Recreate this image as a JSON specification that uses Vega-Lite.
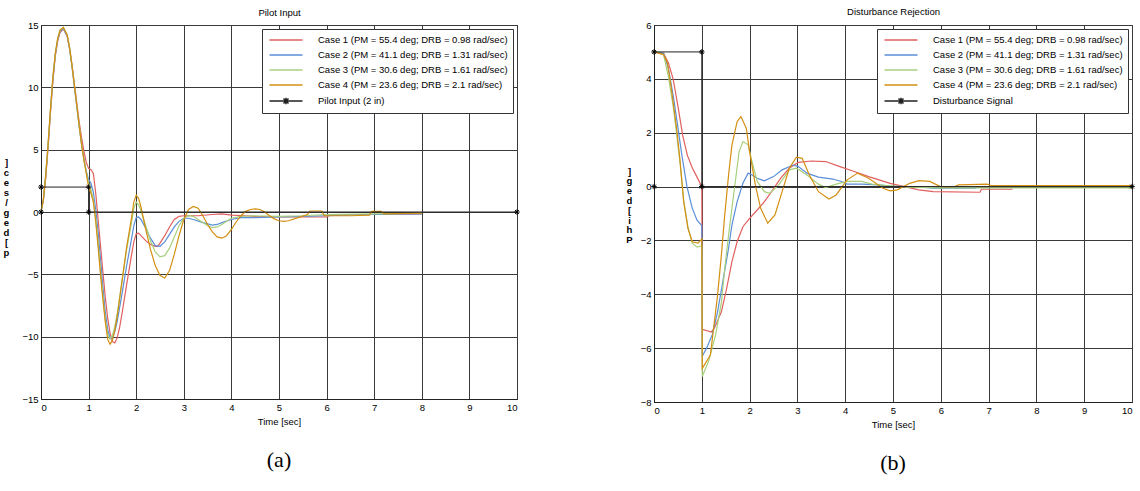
{
  "$schema": "https://vega.github.io/schema/vega-lite/v6.json",
  "padding": {"left": 2, "top": 5, "right": 0, "bottom": 0},
  "background": "white",
  "config": {
    "font": "Liberation Sans",
    "view": {"stroke": "#222", "strokeWidth": 1},
    "axis": {
      "grid": true, "gridColor": "#3a3a3a", "gridWidth": 1, "gridOpacity": 1,
      "domainColor": "#222", "ticks": false, "labelFont": "Liberation Sans", "labelFontSize": 9.5,
      "labelColor": "black", "titleFont": "Liberation Sans", "titleFontSize": 9.5, "titleFontWeight": "normal", "titleColor": "black",
      "labelPadding": 3
    },
    "legend": {
      "labelFont": "Liberation Sans", "labelFontSize": 9.5, "labelColor": "black",
      "symbolSize": 100, "symbolStrokeWidth": 1.5, "symbolType": "M-3.3,0L3.3,0", "symbolOffset": 13, "labelOffset": 26,
      "strokeColor": "#333", "fillColor": "white", "padding": 5, "rowPadding": 4,
      "orient": "top-right", "offset": 4, "title": null, "labelLimit": 300
    },
    "title": {"font": "Liberation Sans", "fontSize": 9.5, "fontWeight": "normal", "color": "black"}
  },
  "datasets": {
    "a": [
      {"s":"Case 1","t":0,"v":0},{"s":"Case 1","t":0.05,"v":0.9},{"s":"Case 1","t":0.1,"v":2.8},{"s":"Case 1","t":0.15,"v":5.2},{"s":"Case 1","t":0.2,"v":8},{"s":"Case 1","t":0.25,"v":10.5},{"s":"Case 1","t":0.3,"v":12.5},{"s":"Case 1","t":0.35,"v":13.7},{"s":"Case 1","t":0.4,"v":14.4},{"s":"Case 1","t":0.47,"v":14.7},{"s":"Case 1","t":0.55,"v":14.1},{"s":"Case 1","t":0.6,"v":13.1},{"s":"Case 1","t":0.65,"v":11.8},{"s":"Case 1","t":0.7,"v":10.3},{"s":"Case 1","t":0.75,"v":8.8},{"s":"Case 1","t":0.8,"v":7.3},{"s":"Case 1","t":0.85,"v":6.0},{"s":"Case 1","t":0.9,"v":4.9},{"s":"Case 1","t":0.95,"v":4.0},{"s":"Case 1","t":1.0,"v":3.5},{"s":"Case 1","t":1.05,"v":3.4},{"s":"Case 1","t":1.1,"v":3.1},{"s":"Case 1","t":1.15,"v":1.5},{"s":"Case 1","t":1.2,"v":-0.6},{"s":"Case 1","t":1.25,"v":-2.7},{"s":"Case 1","t":1.3,"v":-4.8},{"s":"Case 1","t":1.35,"v":-6.8},{"s":"Case 1","t":1.4,"v":-8.5},{"s":"Case 1","t":1.45,"v":-9.7},{"s":"Case 1","t":1.5,"v":-10.4},{"s":"Case 1","t":1.55,"v":-10.5},{"s":"Case 1","t":1.6,"v":-10.1},{"s":"Case 1","t":1.65,"v":-9.3},{"s":"Case 1","t":1.7,"v":-8.2},{"s":"Case 1","t":1.8,"v":-5.8},{"s":"Case 1","t":1.9,"v":-3.5},{"s":"Case 1","t":1.95,"v":-2.4},{"s":"Case 1","t":2.0,"v":-1.75},{"s":"Case 1","t":2.05,"v":-1.7},{"s":"Case 1","t":2.1,"v":-1.9},{"s":"Case 1","t":2.2,"v":-2.3},{"s":"Case 1","t":2.3,"v":-2.6},{"s":"Case 1","t":2.4,"v":-2.75},{"s":"Case 1","t":2.45,"v":-2.75},{"s":"Case 1","t":2.5,"v":-2.5},{"s":"Case 1","t":2.6,"v":-1.9},{"s":"Case 1","t":2.7,"v":-1.2},{"s":"Case 1","t":2.8,"v":-0.6},{"s":"Case 1","t":2.9,"v":-0.35},{"s":"Case 1","t":3.0,"v":-0.3},{"s":"Case 1","t":3.3,"v":-0.3},{"s":"Case 1","t":3.6,"v":-0.2},{"s":"Case 1","t":3.8,"v":-0.15},{"s":"Case 1","t":4.0,"v":-0.25},{"s":"Case 1","t":4.3,"v":-0.3},{"s":"Case 1","t":4.5,"v":-0.35},{"s":"Case 1","t":5.0,"v":-0.4},{"s":"Case 1","t":6.0,"v":-0.4},{"s":"Case 1","t":6.1,"v":-0.2},{"s":"Case 1","t":7.0,"v":-0.2},{"s":"Case 1","t":8.0,"v":-0.15},
      {"s":"Case 2","t":0,"v":0},{"s":"Case 2","t":0.05,"v":1},{"s":"Case 2","t":0.1,"v":2.9},{"s":"Case 2","t":0.15,"v":5.4},{"s":"Case 2","t":0.2,"v":8.2},{"s":"Case 2","t":0.25,"v":10.7},{"s":"Case 2","t":0.3,"v":12.6},{"s":"Case 2","t":0.35,"v":13.8},{"s":"Case 2","t":0.4,"v":14.5},{"s":"Case 2","t":0.47,"v":14.7},{"s":"Case 2","t":0.55,"v":14.1},{"s":"Case 2","t":0.6,"v":13.1},{"s":"Case 2","t":0.65,"v":11.7},{"s":"Case 2","t":0.7,"v":10.1},{"s":"Case 2","t":0.75,"v":8.5},{"s":"Case 2","t":0.8,"v":6.9},{"s":"Case 2","t":0.85,"v":5.5},{"s":"Case 2","t":0.9,"v":4.3},{"s":"Case 2","t":0.95,"v":3.3},{"s":"Case 2","t":1.0,"v":2.6},{"s":"Case 2","t":1.05,"v":2.3},{"s":"Case 2","t":1.1,"v":1.6},{"s":"Case 2","t":1.15,"v":0.2},{"s":"Case 2","t":1.2,"v":-1.6},{"s":"Case 2","t":1.25,"v":-3.8},{"s":"Case 2","t":1.3,"v":-6.0},{"s":"Case 2","t":1.35,"v":-8.0},{"s":"Case 2","t":1.4,"v":-9.4},{"s":"Case 2","t":1.45,"v":-10.1},{"s":"Case 2","t":1.5,"v":-10.1},{"s":"Case 2","t":1.55,"v":-9.6},{"s":"Case 2","t":1.6,"v":-8.8},{"s":"Case 2","t":1.7,"v":-6.6},{"s":"Case 2","t":1.8,"v":-4.3},{"s":"Case 2","t":1.9,"v":-2.2},{"s":"Case 2","t":1.95,"v":-1.1},{"s":"Case 2","t":2.0,"v":-0.45},{"s":"Case 2","t":2.05,"v":-0.4},{"s":"Case 2","t":2.1,"v":-0.6},{"s":"Case 2","t":2.2,"v":-1.3},{"s":"Case 2","t":2.3,"v":-2.1},{"s":"Case 2","t":2.4,"v":-2.7},{"s":"Case 2","t":2.5,"v":-2.75},{"s":"Case 2","t":2.6,"v":-2.4},{"s":"Case 2","t":2.7,"v":-1.8},{"s":"Case 2","t":2.8,"v":-1.2},{"s":"Case 2","t":2.9,"v":-0.75},{"s":"Case 2","t":3.0,"v":-0.5},{"s":"Case 2","t":3.1,"v":-0.5},{"s":"Case 2","t":3.2,"v":-0.6},{"s":"Case 2","t":3.4,"v":-0.85},{"s":"Case 2","t":3.6,"v":-1.05},{"s":"Case 2","t":3.7,"v":-1.0},{"s":"Case 2","t":3.8,"v":-0.85},{"s":"Case 2","t":4.0,"v":-0.6},{"s":"Case 2","t":4.2,"v":-0.45},{"s":"Case 2","t":4.5,"v":-0.45},{"s":"Case 2","t":5.0,"v":-0.4},{"s":"Case 2","t":5.5,"v":-0.35},{"s":"Case 2","t":6.0,"v":-0.3},{"s":"Case 2","t":7.0,"v":-0.2},{"s":"Case 2","t":8.0,"v":-0.15},
      {"s":"Case 3","t":0,"v":0},{"s":"Case 3","t":0.05,"v":1},{"s":"Case 3","t":0.1,"v":3},{"s":"Case 3","t":0.15,"v":5.5},{"s":"Case 3","t":0.2,"v":8.3},{"s":"Case 3","t":0.25,"v":10.8},{"s":"Case 3","t":0.3,"v":12.7},{"s":"Case 3","t":0.35,"v":13.9},{"s":"Case 3","t":0.4,"v":14.6},{"s":"Case 3","t":0.47,"v":14.8},{"s":"Case 3","t":0.55,"v":14.2},{"s":"Case 3","t":0.6,"v":13.2},{"s":"Case 3","t":0.65,"v":11.8},{"s":"Case 3","t":0.7,"v":10.2},{"s":"Case 3","t":0.75,"v":8.6},{"s":"Case 3","t":0.8,"v":7.0},{"s":"Case 3","t":0.85,"v":5.5},{"s":"Case 3","t":0.9,"v":4.2},{"s":"Case 3","t":0.95,"v":3.2},{"s":"Case 3","t":1.0,"v":2.3},{"s":"Case 3","t":1.05,"v":1.8},{"s":"Case 3","t":1.1,"v":1.0},{"s":"Case 3","t":1.15,"v":-0.5},{"s":"Case 3","t":1.2,"v":-2.5},{"s":"Case 3","t":1.25,"v":-4.7},{"s":"Case 3","t":1.3,"v":-6.8},{"s":"Case 3","t":1.35,"v":-8.6},{"s":"Case 3","t":1.4,"v":-9.8},{"s":"Case 3","t":1.45,"v":-10.2},{"s":"Case 3","t":1.5,"v":-9.9},{"s":"Case 3","t":1.55,"v":-9.2},{"s":"Case 3","t":1.6,"v":-8.2},{"s":"Case 3","t":1.7,"v":-5.6},{"s":"Case 3","t":1.8,"v":-3.0},{"s":"Case 3","t":1.9,"v":-0.9},{"s":"Case 3","t":1.95,"v":0.3},{"s":"Case 3","t":2.0,"v":0.8},{"s":"Case 3","t":2.05,"v":0.6},{"s":"Case 3","t":2.1,"v":0.1},{"s":"Case 3","t":2.2,"v":-1.1},{"s":"Case 3","t":2.3,"v":-2.3},{"s":"Case 3","t":2.4,"v":-3.2},{"s":"Case 3","t":2.5,"v":-3.6},{"s":"Case 3","t":2.6,"v":-3.5},{"s":"Case 3","t":2.7,"v":-2.9},{"s":"Case 3","t":2.8,"v":-2.0},{"s":"Case 3","t":2.9,"v":-1.1},{"s":"Case 3","t":3.0,"v":-0.5},{"s":"Case 3","t":3.1,"v":-0.3},{"s":"Case 3","t":3.2,"v":-0.35},{"s":"Case 3","t":3.3,"v":-0.6},{"s":"Case 3","t":3.4,"v":-0.85},{"s":"Case 3","t":3.5,"v":-1.1},{"s":"Case 3","t":3.6,"v":-1.25},{"s":"Case 3","t":3.7,"v":-1.2},{"s":"Case 3","t":3.8,"v":-1.0},{"s":"Case 3","t":3.9,"v":-0.75},{"s":"Case 3","t":4.0,"v":-0.5},{"s":"Case 3","t":4.2,"v":-0.35},{"s":"Case 3","t":4.5,"v":-0.3},{"s":"Case 3","t":5.0,"v":-0.35},{"s":"Case 3","t":5.5,"v":-0.3},{"s":"Case 3","t":6.0,"v":-0.2},{"s":"Case 3","t":7.0,"v":-0.15},{"s":"Case 3","t":8.0,"v":-0.1},
      {"s":"Case 4","t":0,"v":0},{"s":"Case 4","t":0.05,"v":1},{"s":"Case 4","t":0.1,"v":3},{"s":"Case 4","t":0.15,"v":5.5},{"s":"Case 4","t":0.2,"v":8.3},{"s":"Case 4","t":0.25,"v":10.8},{"s":"Case 4","t":0.3,"v":12.7},{"s":"Case 4","t":0.35,"v":13.9},{"s":"Case 4","t":0.4,"v":14.6},{"s":"Case 4","t":0.47,"v":14.8},{"s":"Case 4","t":0.55,"v":14.2},{"s":"Case 4","t":0.6,"v":13.2},{"s":"Case 4","t":0.65,"v":11.8},{"s":"Case 4","t":0.7,"v":10.2},{"s":"Case 4","t":0.75,"v":8.6},{"s":"Case 4","t":0.8,"v":7.0},{"s":"Case 4","t":0.85,"v":5.5},{"s":"Case 4","t":0.9,"v":4.2},{"s":"Case 4","t":0.95,"v":3.1},{"s":"Case 4","t":1.0,"v":2.0},{"s":"Case 4","t":1.05,"v":1.5},{"s":"Case 4","t":1.1,"v":0.8},{"s":"Case 4","t":1.15,"v":-0.8},{"s":"Case 4","t":1.2,"v":-2.8},{"s":"Case 4","t":1.25,"v":-5},{"s":"Case 4","t":1.3,"v":-7},{"s":"Case 4","t":1.35,"v":-8.8},{"s":"Case 4","t":1.4,"v":-10.2},{"s":"Case 4","t":1.45,"v":-10.6},{"s":"Case 4","t":1.5,"v":-10.3},{"s":"Case 4","t":1.55,"v":-9.5},{"s":"Case 4","t":1.6,"v":-8.4},{"s":"Case 4","t":1.7,"v":-5.6},{"s":"Case 4","t":1.8,"v":-2.8},{"s":"Case 4","t":1.9,"v":-0.5},{"s":"Case 4","t":1.95,"v":0.8},{"s":"Case 4","t":2.0,"v":1.35},{"s":"Case 4","t":2.05,"v":1.1},{"s":"Case 4","t":2.1,"v":0.4},{"s":"Case 4","t":2.2,"v":-1.4},{"s":"Case 4","t":2.3,"v":-3.0},{"s":"Case 4","t":2.4,"v":-4.3},{"s":"Case 4","t":2.5,"v":-5.1},{"s":"Case 4","t":2.6,"v":-5.3},{"s":"Case 4","t":2.7,"v":-4.7},{"s":"Case 4","t":2.8,"v":-3.4},{"s":"Case 4","t":2.9,"v":-1.9},{"s":"Case 4","t":3.0,"v":-0.6},{"s":"Case 4","t":3.1,"v":0.2},{"s":"Case 4","t":3.2,"v":0.45},{"s":"Case 4","t":3.3,"v":0.3},{"s":"Case 4","t":3.4,"v":-0.3},{"s":"Case 4","t":3.5,"v":-1.0},{"s":"Case 4","t":3.6,"v":-1.6},{"s":"Case 4","t":3.7,"v":-2.0},{"s":"Case 4","t":3.8,"v":-2.1},{"s":"Case 4","t":3.9,"v":-1.9},{"s":"Case 4","t":4.0,"v":-1.4},{"s":"Case 4","t":4.1,"v":-0.8},{"s":"Case 4","t":4.2,"v":-0.3},{"s":"Case 4","t":4.3,"v":0.05},{"s":"Case 4","t":4.4,"v":0.2},{"s":"Case 4","t":4.5,"v":0.25},{"s":"Case 4","t":4.6,"v":0.2},{"s":"Case 4","t":4.7,"v":0.0},{"s":"Case 4","t":4.8,"v":-0.3},{"s":"Case 4","t":4.9,"v":-0.55},{"s":"Case 4","t":5.0,"v":-0.7},{"s":"Case 4","t":5.1,"v":-0.75},{"s":"Case 4","t":5.2,"v":-0.7},{"s":"Case 4","t":5.4,"v":-0.45},{"s":"Case 4","t":5.6,"v":-0.2},{"s":"Case 4","t":5.65,"v":0.08},{"s":"Case 4","t":5.9,"v":0.08},{"s":"Case 4","t":5.95,"v":-0.3},{"s":"Case 4","t":6.5,"v":-0.3},{"s":"Case 4","t":6.9,"v":-0.25},{"s":"Case 4","t":6.95,"v":0.05},{"s":"Case 4","t":7.15,"v":0.05},{"s":"Case 4","t":7.2,"v":-0.15},{"s":"Case 4","t":8.0,"v":-0.1},
      {"s":"Pilot Input (2 in)","i":0,"t":0,"v":0},{"s":"Pilot Input (2 in)","i":1,"t":0,"v":2},{"s":"Pilot Input (2 in)","i":2,"t":1,"v":2},{"s":"Pilot Input (2 in)","i":3,"t":1,"v":0},{"s":"Pilot Input (2 in)","i":4,"t":10,"v":0}
    ],
    "b": [
      {"s":"Case 1","t":0,"v":5},{"s":"Case 1","t":0.2,"v":4.95},{"s":"Case 1","t":0.3,"v":4.6},{"s":"Case 1","t":0.4,"v":4.0},{"s":"Case 1","t":0.5,"v":3.0},{"s":"Case 1","t":0.6,"v":1.9},{"s":"Case 1","t":0.7,"v":1.15},{"s":"Case 1","t":0.8,"v":0.7},{"s":"Case 1","t":0.9,"v":0.35},{"s":"Case 1","t":1.0,"v":0.0},{"s":"Case 1","t":1.01,"v":-5.3},{"s":"Case 1","t":1.2,"v":-5.4},{"s":"Case 1","t":1.26,"v":-5.27},{"s":"Case 1","t":1.41,"v":-4.65},{"s":"Case 1","t":1.52,"v":-3.78},{"s":"Case 1","t":1.63,"v":-2.79},{"s":"Case 1","t":1.74,"v":-2.04},{"s":"Case 1","t":1.86,"v":-1.49},{"s":"Case 1","t":2.0,"v":-1.18},{"s":"Case 1","t":2.16,"v":-0.87},{"s":"Case 1","t":2.31,"v":-0.56},{"s":"Case 1","t":2.46,"v":-0.19},{"s":"Case 1","t":2.65,"v":0.31},{"s":"Case 1","t":2.83,"v":0.68},{"s":"Case 1","t":3.02,"v":0.9},{"s":"Case 1","t":3.29,"v":0.95},{"s":"Case 1","t":3.59,"v":0.93},{"s":"Case 1","t":3.89,"v":0.74},{"s":"Case 1","t":4.19,"v":0.56},{"s":"Case 1","t":4.49,"v":0.37},{"s":"Case 1","t":4.71,"v":0.25},{"s":"Case 1","t":4.94,"v":0.12},{"s":"Case 1","t":5.24,"v":0.0},{"s":"Case 1","t":5.54,"v":-0.12},{"s":"Case 1","t":5.84,"v":-0.19},{"s":"Case 1","t":6.82,"v":-0.21},{"s":"Case 1","t":6.85,"v":-0.1},{"s":"Case 1","t":7.5,"v":-0.1},
      {"s":"Case 2","t":0,"v":5},{"s":"Case 2","t":0.2,"v":4.95},{"s":"Case 2","t":0.3,"v":4.4},{"s":"Case 2","t":0.4,"v":3.4},{"s":"Case 2","t":0.5,"v":2.2},{"s":"Case 2","t":0.58,"v":1.2},{"s":"Case 2","t":0.69,"v":0.0},{"s":"Case 2","t":0.8,"v":-0.8},{"s":"Case 2","t":0.9,"v":-1.25},{"s":"Case 2","t":1.0,"v":-1.45},{"s":"Case 2","t":1.01,"v":-6.3},{"s":"Case 2","t":1.1,"v":-6.0},{"s":"Case 2","t":1.22,"v":-5.5},{"s":"Case 2","t":1.33,"v":-4.65},{"s":"Case 2","t":1.44,"v":-3.53},{"s":"Case 2","t":1.56,"v":-2.29},{"s":"Case 2","t":1.63,"v":-1.43},{"s":"Case 2","t":1.74,"v":-0.56},{"s":"Case 2","t":1.86,"v":0.12},{"s":"Case 2","t":1.97,"v":0.5},{"s":"Case 2","t":2.05,"v":0.43},{"s":"Case 2","t":2.16,"v":0.31},{"s":"Case 2","t":2.31,"v":0.21},{"s":"Case 2","t":2.5,"v":0.37},{"s":"Case 2","t":2.68,"v":0.62},{"s":"Case 2","t":2.91,"v":0.8},{"s":"Case 2","t":3.02,"v":0.74},{"s":"Case 2","t":3.2,"v":0.5},{"s":"Case 2","t":3.44,"v":0.35},{"s":"Case 2","t":3.74,"v":0.28},{"s":"Case 2","t":3.92,"v":0.19},{"s":"Case 2","t":4.04,"v":0.09},{"s":"Case 2","t":4.34,"v":0.09},{"s":"Case 2","t":4.71,"v":0.06},{"s":"Case 2","t":4.94,"v":0.02},{"s":"Case 2","t":5.54,"v":-0.01},{"s":"Case 2","t":5.84,"v":-0.06},{"s":"Case 2","t":6.74,"v":-0.06},
      {"s":"Case 3","t":0,"v":5},{"s":"Case 3","t":0.2,"v":4.9},{"s":"Case 3","t":0.3,"v":4.1},{"s":"Case 3","t":0.4,"v":3.0},{"s":"Case 3","t":0.47,"v":2.0},{"s":"Case 3","t":0.55,"v":0.8},{"s":"Case 3","t":0.62,"v":-0.5},{"s":"Case 3","t":0.71,"v":-1.5},{"s":"Case 3","t":0.8,"v":-2.1},{"s":"Case 3","t":0.9,"v":-2.25},{"s":"Case 3","t":1.0,"v":-2.2},{"s":"Case 3","t":1.01,"v":-7.05},{"s":"Case 3","t":1.14,"v":-6.5},{"s":"Case 3","t":1.29,"v":-5.5},{"s":"Case 3","t":1.41,"v":-4.3},{"s":"Case 3","t":1.48,"v":-3.04},{"s":"Case 3","t":1.56,"v":-1.8},{"s":"Case 3","t":1.63,"v":-0.8},{"s":"Case 3","t":1.71,"v":0.31},{"s":"Case 3","t":1.78,"v":1.3},{"s":"Case 3","t":1.86,"v":1.67},{"s":"Case 3","t":1.97,"v":1.55},{"s":"Case 3","t":2.05,"v":0.93},{"s":"Case 3","t":2.16,"v":0.19},{"s":"Case 3","t":2.31,"v":-0.19},{"s":"Case 3","t":2.42,"v":-0.25},{"s":"Case 3","t":2.61,"v":0.06},{"s":"Case 3","t":2.83,"v":0.62},{"s":"Case 3","t":2.98,"v":0.68},{"s":"Case 3","t":3.2,"v":0.43},{"s":"Case 3","t":3.44,"v":0.09},{"s":"Case 3","t":3.59,"v":-0.04},{"s":"Case 3","t":3.81,"v":0.09},{"s":"Case 3","t":4.04,"v":0.19},{"s":"Case 3","t":4.34,"v":0.19},{"s":"Case 3","t":4.56,"v":0.09},{"s":"Case 3","t":4.86,"v":0.04},{"s":"Case 3","t":5.32,"v":-0.02},{"s":"Case 3","t":6.0,"v":-0.05},{"s":"Case 3","t":10,"v":-0.05},
      {"s":"Case 4","t":0,"v":5},{"s":"Case 4","t":0.2,"v":4.9},{"s":"Case 4","t":0.28,"v":4.6},{"s":"Case 4","t":0.35,"v":3.8},{"s":"Case 4","t":0.47,"v":2.2},{"s":"Case 4","t":0.54,"v":1.05},{"s":"Case 4","t":0.62,"v":-0.55},{"s":"Case 4","t":0.71,"v":-1.55},{"s":"Case 4","t":0.8,"v":-2.05},{"s":"Case 4","t":0.92,"v":-2.1},{"s":"Case 4","t":1.0,"v":-1.95},{"s":"Case 4","t":1.01,"v":-6.75},{"s":"Case 4","t":1.18,"v":-6.26},{"s":"Case 4","t":1.33,"v":-4.03},{"s":"Case 4","t":1.41,"v":-2.54},{"s":"Case 4","t":1.48,"v":-1.05},{"s":"Case 4","t":1.56,"v":0.43},{"s":"Case 4","t":1.63,"v":1.54},{"s":"Case 4","t":1.74,"v":2.42},{"s":"Case 4","t":1.82,"v":2.6},{"s":"Case 4","t":1.93,"v":2.17},{"s":"Case 4","t":2.0,"v":1.3},{"s":"Case 4","t":2.12,"v":0.06},{"s":"Case 4","t":2.23,"v":-0.8},{"s":"Case 4","t":2.38,"v":-1.36},{"s":"Case 4","t":2.53,"v":-1.05},{"s":"Case 4","t":2.68,"v":-0.19},{"s":"Case 4","t":2.83,"v":0.68},{"s":"Case 4","t":2.98,"v":1.09},{"s":"Case 4","t":3.1,"v":1.05},{"s":"Case 4","t":3.25,"v":0.43},{"s":"Case 4","t":3.44,"v":-0.19},{"s":"Case 4","t":3.66,"v":-0.46},{"s":"Case 4","t":3.81,"v":-0.31},{"s":"Case 4","t":4.04,"v":0.25},{"s":"Case 4","t":4.26,"v":0.5},{"s":"Case 4","t":4.49,"v":0.31},{"s":"Case 4","t":4.79,"v":-0.06},{"s":"Case 4","t":4.94,"v":-0.16},{"s":"Case 4","t":5.09,"v":-0.12},{"s":"Case 4","t":5.35,"v":0.12},{"s":"Case 4","t":5.54,"v":0.22},{"s":"Case 4","t":5.77,"v":0.19},{"s":"Case 4","t":5.99,"v":0.0},{"s":"Case 4","t":6.29,"v":0.0},{"s":"Case 4","t":6.37,"v":0.06},{"s":"Case 4","t":6.97,"v":0.09},{"s":"Case 4","t":7.05,"v":0.04},{"s":"Case 4","t":10,"v":0.04},
      {"s":"Disturbance Signal","i":0,"t":0,"v":0},{"s":"Disturbance Signal","i":1,"t":0,"v":5},{"s":"Disturbance Signal","i":2,"t":1,"v":5},{"s":"Disturbance Signal","i":3,"t":1,"v":0},{"s":"Disturbance Signal","i":4,"t":10,"v":0}
    ]
  },
  "resolve": {"scale": {"color": "independent"}, "legend": {"color": "independent"}},
  "spacing": 102,
  "hconcat": [
    {
      "width": 476, "height": 374,
      "title": {"text": "(a)", "orient": "bottom", "anchor": "middle", "font": "Liberation Serif", "fontSize": 22, "offset": 24},
      "data": {"name": "a"},
      "resolve": {"axis": {"x": "independent"}},
      "layer": [
        {
          "transform": [{"filter": "datum.s != 'Pilot Input (2 in)'"}],
          "mark": {"type": "line", "strokeWidth": 1.2, "clip": true},
          "encoding": {
            "x": {"field": "t", "type": "quantitative", "scale": {"domain": [0, 10], "nice": false}, "axis": {"title": "Time [sec]", "values": [0,1,2,3,4,5,6,7,8,9,10], "titlePadding": 5}},
            "y": {"field": "v", "type": "quantitative", "scale": {"domain": [-15, 15], "nice": false}, "axis": {"title": ["]","c","e","s","/","g","e","d","["," ","p"], "titleAngle": 0, "titleLineHeight": 10, "titleX": -35, "titleY": 132, "titleAlign": "center", "titleBaseline": "top", "titleFontWeight": "bold", "values": [-15,-10,-5,0,5,10,15]}},
            "color": {
              "field": "s", "type": "nominal",
              "scale": {"domain": ["Case 1","Case 2","Case 3","Case 4","Pilot Input (2 in)"], "range": ["#e0605e","#5a8fd8","#a8d07c","#d38f12","#222222"]},
              "legend": {
                "labelExpr": "datum.label == 'Case 1' ? 'Case 1 (PM = 55.4 deg; DRB = 0.98 rad/sec)' : datum.label == 'Case 2' ? 'Case 2 (PM = 41.1 deg; DRB = 1.31 rad/sec)' : datum.label == 'Case 3' ? 'Case 3 (PM = 30.6 deg; DRB = 1.61 rad/sec)' : datum.label == 'Case 4' ? 'Case 4 (PM = 23.6 deg; DRB = 2.1 rad/sec)' : datum.label",
                "encode": {"symbols": {"update": {"shape": {"signal": "datum.value == 'Pilot Input (2 in)' ? 'M-3.3,0L3.3,0M-0.5,-0.5L0.5,0.5M-0.5,0.5L0.5,-0.5M0,-0.65L0,0.65' : 'M-3.3,0L3.3,0'"}}}}
              }
            }
          }
        },
        {
          "transform": [{"filter": "datum.s == 'Pilot Input (2 in)'"}],
          "mark": {"type": "line", "strokeWidth": 1, "clip": true},
          "encoding": {
            "x": {"field": "t", "type": "quantitative", "axis": null},
            "y": {"field": "v", "type": "quantitative"},
            "order": {"field": "i"},
            "color": {"field": "s", "type": "nominal"}
          }
        },
        {
          "transform": [{"filter": "datum.s == 'Pilot Input (2 in)'"}],
          "mark": {"type": "point", "shape": "M0,-1L0,1M-1,0L1,0M-0.7,-0.7L0.7,0.7M-0.7,0.7L0.7,-0.7", "size": 30, "color": "black", "strokeWidth": 1, "opacity": 1, "filled": false},
          "encoding": {
            "x": {"field": "t", "type": "quantitative", "axis": {"orient": "top", "title": "Pilot Input", "labels": false, "domain": false, "grid": false, "ticks": false, "titlePadding": 8}},
            "y": {"field": "v", "type": "quantitative"}
          }
        }
      ]
    },
    {
      "width": 478, "height": 377,
      "title": {"text": "(b)", "orient": "bottom", "anchor": "middle", "font": "Liberation Serif", "fontSize": 22, "offset": 24},
      "data": {"name": "b"},
      "resolve": {"axis": {"x": "independent"}},
      "layer": [
        {
          "transform": [{"filter": "datum.s != 'Disturbance Signal'"}],
          "mark": {"type": "line", "strokeWidth": 1.2, "clip": true},
          "encoding": {
            "x": {"field": "t", "type": "quantitative", "scale": {"domain": [0, 10], "nice": false}, "axis": {"title": "Time [sec]", "values": [0,1,2,3,4,5,6,7,8,9,10], "titlePadding": 5}},
            "y": {"field": "v", "type": "quantitative", "scale": {"domain": [-8, 6], "nice": false}, "axis": {"title": ["]","g","e","d","["," ","i","h","P"], "titleAngle": 0, "titleLineHeight": 9.8, "titleX": -25, "titleY": 141, "titleAlign": "center", "titleBaseline": "top", "titleFontWeight": "bold", "values": [-8,-6,-4,-2,0,2,4,6]}},
            "color": {
              "field": "s", "type": "nominal",
              "scale": {"domain": ["Case 1","Case 2","Case 3","Case 4","Disturbance Signal"], "range": ["#e0605e","#5a8fd8","#a8d07c","#d38f12","#222222"]},
              "legend": {
                "labelExpr": "datum.label == 'Case 1' ? 'Case 1 (PM = 55.4 deg; DRB = 0.98 rad/sec)' : datum.label == 'Case 2' ? 'Case 2 (PM = 41.1 deg; DRB = 1.31 rad/sec)' : datum.label == 'Case 3' ? 'Case 3 (PM = 30.6 deg; DRB = 1.61 rad/sec)' : datum.label == 'Case 4' ? 'Case 4 (PM = 23.6 deg; DRB = 2.1 rad/sec)' : datum.label",
                "encode": {"symbols": {"update": {"shape": {"signal": "datum.value == 'Disturbance Signal' ? 'M-3.3,0L3.3,0M-0.5,-0.5L0.5,0.5M-0.5,0.5L0.5,-0.5M0,-0.65L0,0.65' : 'M-3.3,0L3.3,0'"}}}}
              }
            }
          }
        },
        {
          "transform": [{"filter": "datum.s == 'Disturbance Signal'"}],
          "mark": {"type": "line", "strokeWidth": 1, "clip": true},
          "encoding": {
            "x": {"field": "t", "type": "quantitative", "axis": null},
            "y": {"field": "v", "type": "quantitative"},
            "order": {"field": "i"},
            "color": {"field": "s", "type": "nominal"}
          }
        },
        {
          "transform": [{"filter": "datum.s == 'Disturbance Signal'"}],
          "mark": {"type": "point", "shape": "M0,-1L0,1M-1,0L1,0M-0.7,-0.7L0.7,0.7M-0.7,0.7L0.7,-0.7", "size": 30, "color": "black", "strokeWidth": 1, "opacity": 1, "filled": false},
          "encoding": {
            "x": {"field": "t", "type": "quantitative", "axis": {"orient": "top", "title": "Disturbance Rejection", "labels": false, "domain": false, "grid": false, "ticks": false, "titlePadding": 9}},
            "y": {"field": "v", "type": "quantitative"}
          }
        }
      ]
    }
  ]
}
